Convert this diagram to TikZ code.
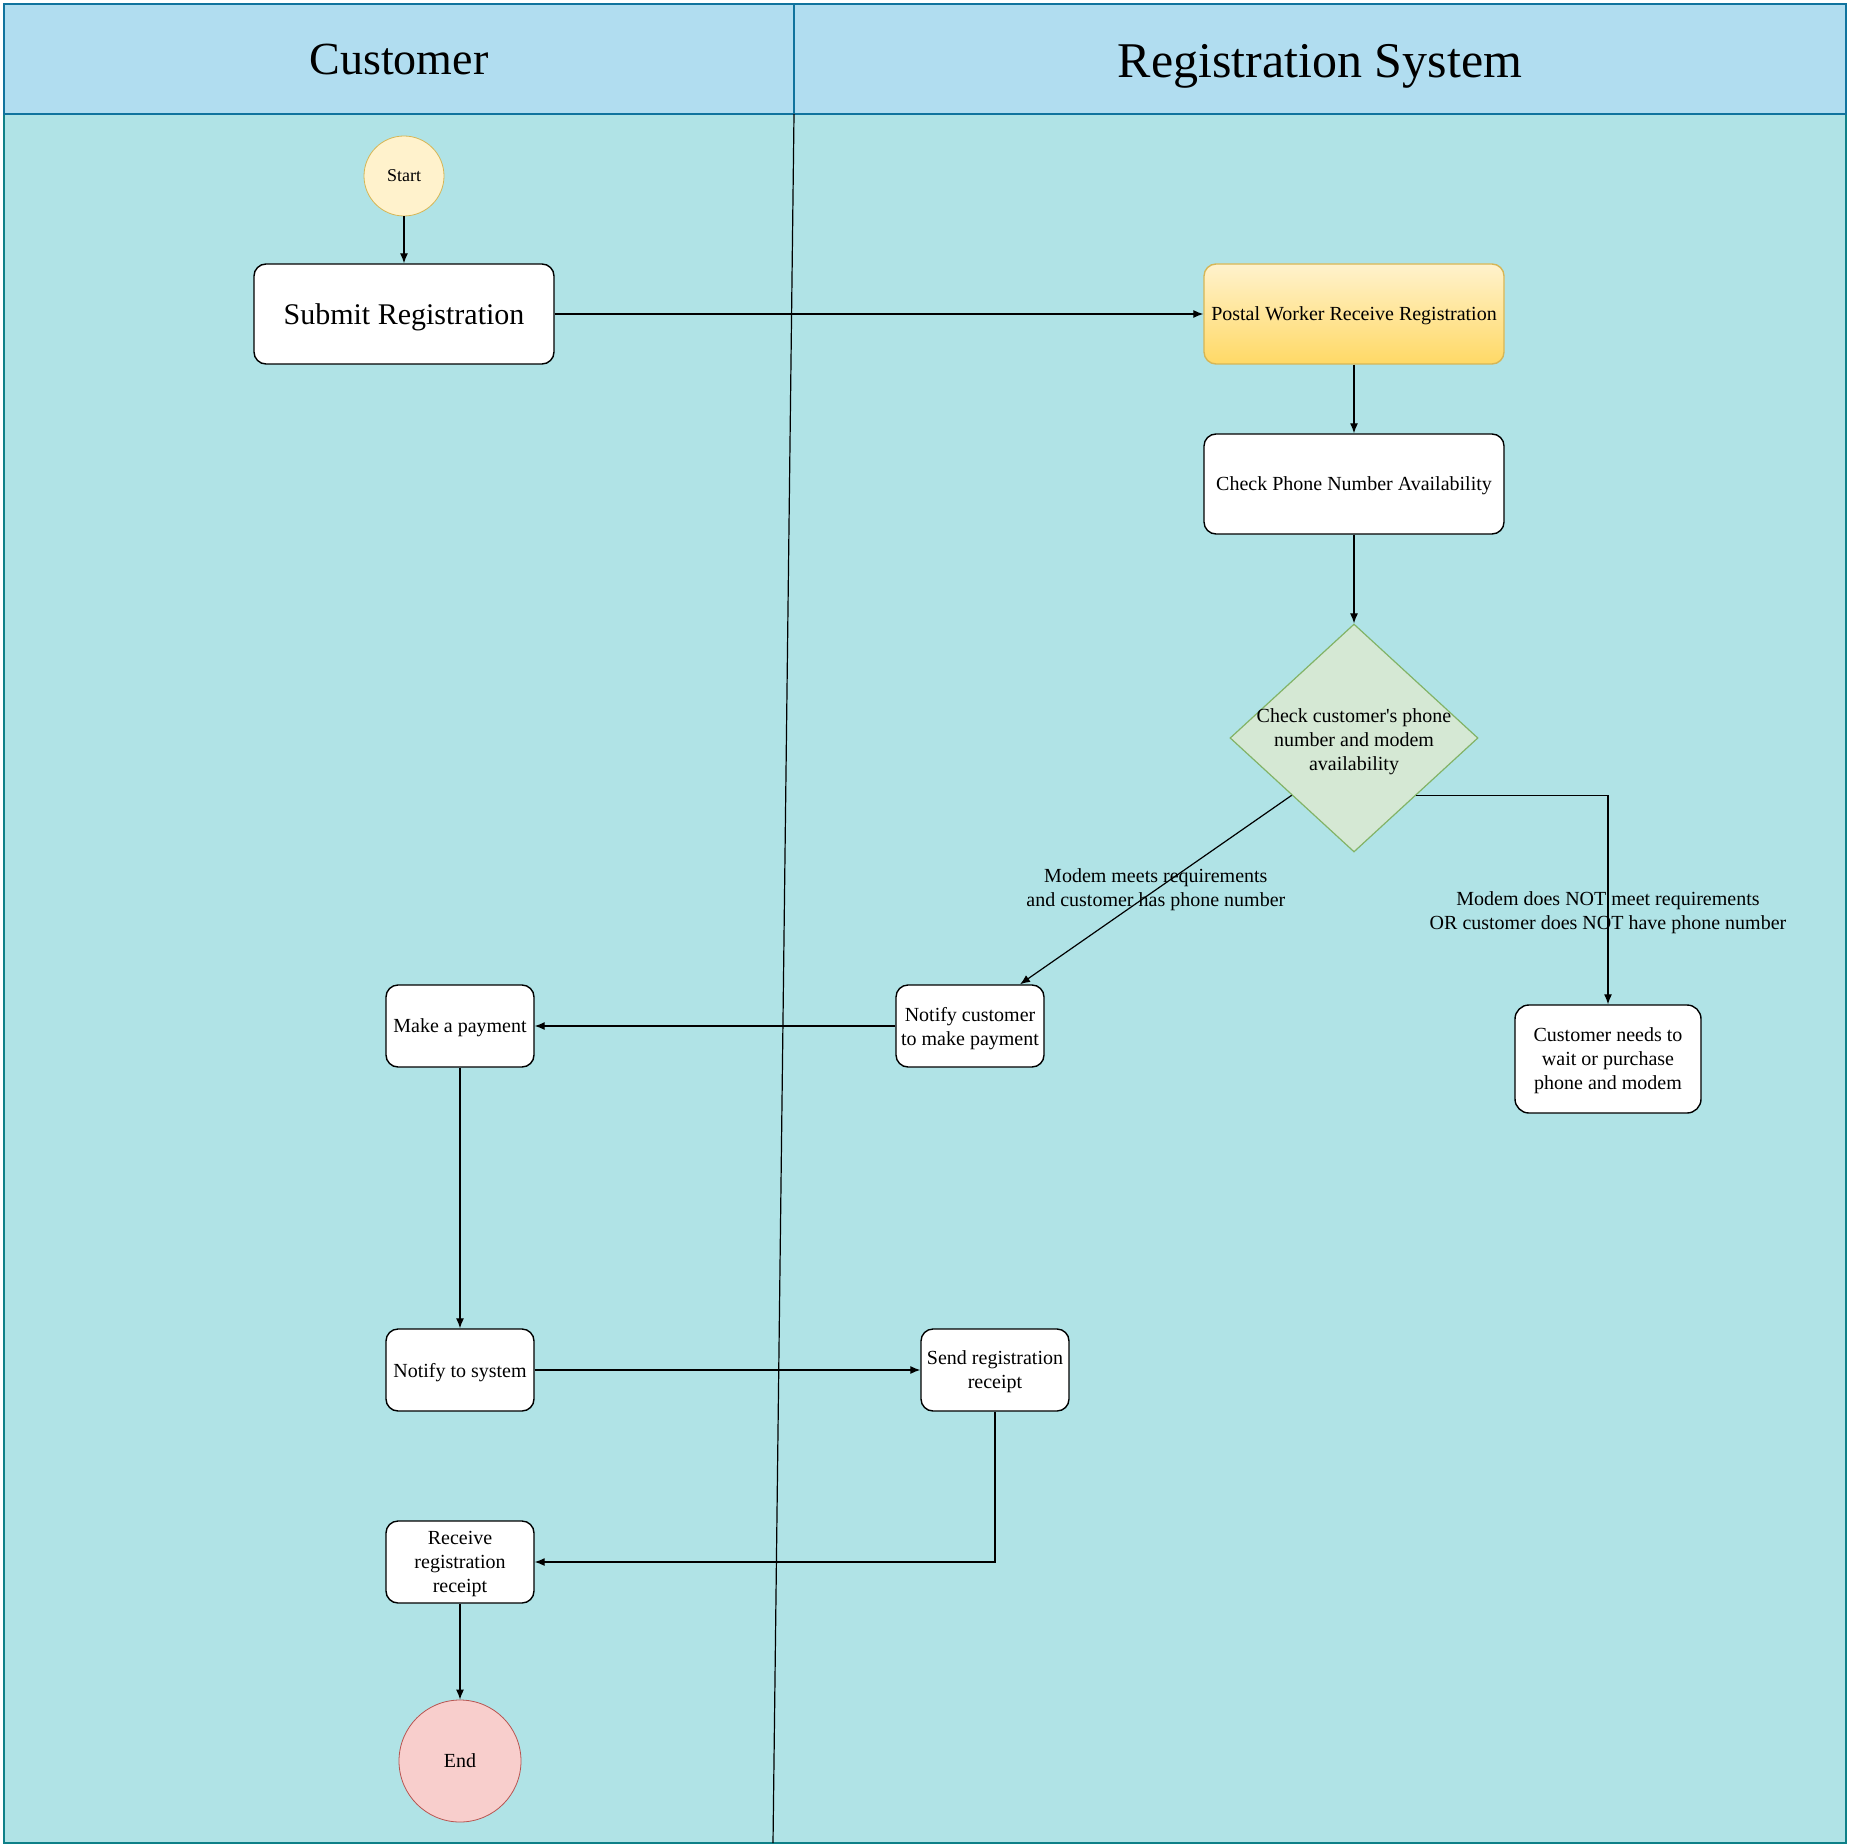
\documentclass[tikz,border=0pt]{standalone}
\usepackage{fontspec}
\setmainfont{Liberation Serif}
\usetikzlibrary{shapes.geometric,positioning,arrows.meta}
\definecolor{kopfblau}{HTML}{B1DDF0}
\definecolor{kopfrand}{HTML}{10739E}
\definecolor{bahn}{HTML}{B0E3E6}
\definecolor{bahnrand}{HTML}{0E8088}
\definecolor{gelbhell}{HTML}{FFF2CC}
\definecolor{gelb}{HTML}{FFD966}
\definecolor{gelbrand}{HTML}{D6B656}
\definecolor{gruen}{HTML}{D5E8D4}
\definecolor{gruenrand}{HTML}{82B366}
\definecolor{rosa}{HTML}{F8CECC}
\definecolor{rosarand}{HTML}{B85450}

\tikzset{
  schritt/.style={draw, line width=0.7pt, fill=white, rounded corners=6pt, align=center, minimum width=74pt, minimum height=41pt, inner sep=1pt, text depth=0pt, font=\fontsize{10}{12}\selectfont},
  gross/.style={schritt, minimum width=150pt, minimum height=50pt},
  fluss/.style={->, line width=0.6pt},
  beschr/.style={align=center, font=\fontsize{10}{12}\selectfont}
}

\begin{document}
\begin{tikzpicture}[x=0.5pt,y=-0.5pt,>={Latex[length=5pt,width=4pt]}]
\useasboundingbox (0,0) rectangle (1851,1845);
%Schwimmbahnen mit Kopfzeile
\path[draw=bahnrand, fill=bahn, line width=0.6pt] (4,114) rectangle (1846,1843);
\path[draw=kopfrand, fill=kopfblau, line width=0.6pt] (4,4) rectangle (1846,114);
\draw[kopfrand, line width=0.6pt] (794,4) to (794,114);
\draw[line width=0.6pt] (794,114) to (773,1843);
\node (kunde) at (399,60) {\fontsize{23}{28}\selectfont Customer};
\node (system) at (1320,66) {\fontsize{25}{30}\selectfont Registration System};

%Knoten
\node[circle, draw=gelbrand, fill=gelbhell, minimum size=40pt, inner sep=0pt, font=\fontsize{9}{11}\selectfont] (start) at (404,176) {Start};
\node[gross, font=\fontsize{15}{18}\selectfont] (submit) at (404,314) {Submit Registration};
\node[gross, draw=gelbrand, top color=gelbhell, bottom color=gelb] (postal) at (1354,314) {Postal Worker Receive Registration};
\node[gross] (pruefen) at (1354,484) {Check Phone Number Availability};
\node[diamond, draw=gruenrand, fill=gruen, line width=0.6pt, minimum width=124pt, minimum height=114pt, inner sep=0pt] (raute) at (1354,738) {};
\node[beschr] (rautetext) at (1354,742) {Check customer\textquotesingle s phone\\number and modem\\availability};
\node[schritt] (zahlauf) at (970,1026) {Notify customer\\to make payment};
\node[schritt, minimum width=93pt, minimum height=54pt, rounded corners=7pt] (warten) at (1608,1059) {Customer needs to\\wait or purchase\\phone and modem};
\node[schritt] (zahlen) at (460,1026) {Make a payment};
\node[schritt] (melden) at (460,1370) {Notify to system};
\node[schritt] (senden) at (995,1370) {Send registration\\receipt};
\node[schritt] (empfang) at (460,1562) {Receive\\registration\\receipt};
\node[circle, draw=rosarand, fill=rosa, minimum size=61pt, inner sep=0pt, font=\fontsize{10}{12}\selectfont] (ende) at (460,1761) {End};

%Pfeile
\draw[fluss] (start) to (submit);
\draw[fluss] (submit) to (postal);
\draw[fluss] (postal) to (pruefen);
\draw[fluss] (pruefen) to (raute);
\draw[fluss] (raute.south west) to node[beschr, midway] (ja) {Modem meets requirements\\and customer has phone number} ([xshift=25pt]zahlauf.north);
\draw[fluss] (raute.south east) -| node[beschr, pos=0.75, yshift=-6.5pt] (nein) {Modem does NOT meet requirements\\OR customer does NOT have phone number} (warten.north);
\draw[fluss] (zahlauf) to (zahlen);
\draw[fluss] (zahlen) to (melden);
\draw[fluss] (melden) to (senden);
\draw[fluss] (senden.south) |- (empfang.east);
\draw[fluss] (empfang) to (ende);

\end{tikzpicture}
\end{document}
